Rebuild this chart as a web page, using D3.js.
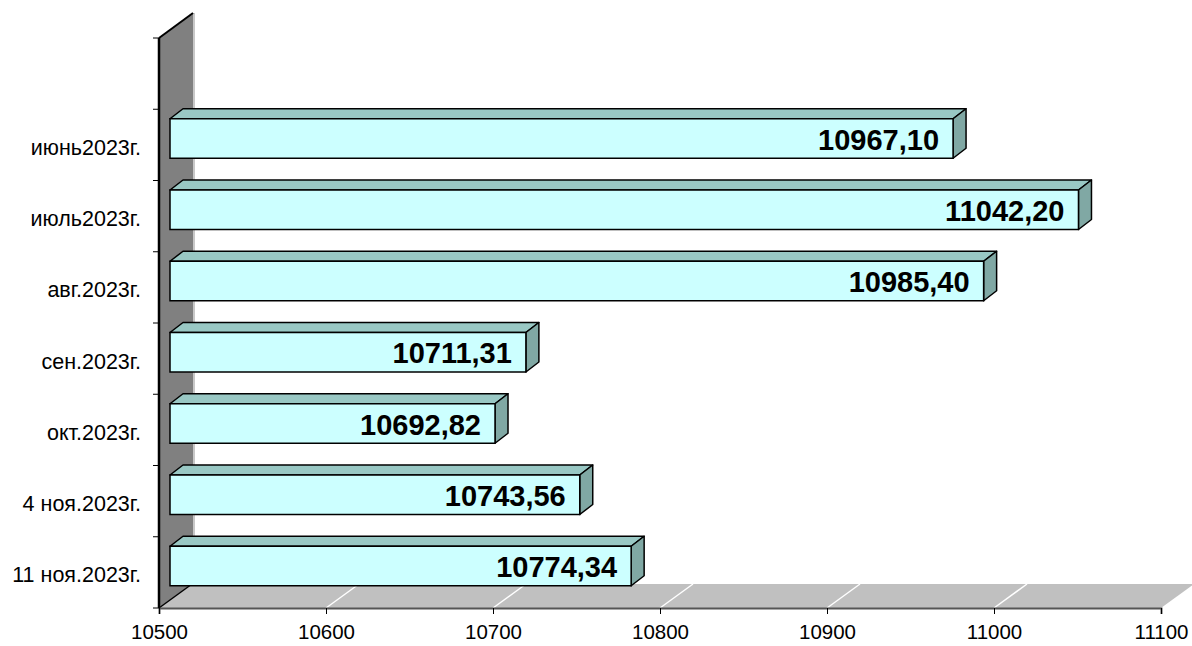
<!DOCTYPE html>
<html>
<head>
<meta charset="utf-8">
<script src="https://cdn.jsdelivr.net/npm/d3@7"></script>
<style>
  html, body { margin: 0; padding: 0; background: #fff; }
  svg { display: block; font-family: "Liberation Sans", Arial, sans-serif; }
</style>
</head>
<body>
<svg id="chart" width="1192" height="646"></svg>
<script>
// data, top to bottom
const categories = ["июнь2023г.", "июль2023г.", "авг.2023г.", "сен.2023г.", "окт.2023г.", "4 ноя.2023г.", "11 ноя.2023г."];
const values = [10967.10, 11042.20, 10985.40, 10711.31, 10692.82, 10743.56, 10774.34];
const xTicks = [10500, 10600, 10700, 10800, 10900, 11000, 11100];

const svg = d3.select("#chart");

const plotLeft = 159, plotRight = 1161, plotTop = 38, plotBottom = 608;
// depth of the floor / wall
const depth = { dx: 33, dy: -24 };
// depth of a single bar
const barDepth = { dx: 13, dy: -10 };

const x = d3.scaleLinear().domain([10500, 11100]).range([plotLeft, plotRight]);
// one empty slot above the first category, as in the original
const y = d3.scaleBand().domain(["", ...categories]).range([plotTop, plotBottom]).padding(0);

const pts = (arr) => arr.map(p => p.join(",")).join(" ");

// wall
svg.append("polygon")
  .attr("points", pts([[plotLeft, plotTop], [plotLeft + depth.dx + 1, plotTop - 25], [plotLeft + depth.dx + 1, plotBottom + depth.dy - 1], [plotLeft, plotBottom]]))
  .attr("fill", "#808080");
svg.append("line")
  .attr("x1", plotLeft + depth.dx + 2).attr("x2", plotLeft + depth.dx + 2)
  .attr("y1", plotTop - 25).attr("y2", plotBottom + depth.dy - 2)
  .attr("stroke", "#c8c8c8").attr("stroke-width", 2);

// floor
svg.append("polygon")
  .attr("points", pts([[plotLeft, plotBottom], [plotRight, plotBottom], [plotRight + depth.dx, plotBottom + depth.dy], [plotLeft + depth.dx, plotBottom + depth.dy]]))
  .attr("fill", "#c0c0c0");

// floor grid lines
svg.append("g").selectAll("line")
  .data(xTicks.slice(1, -1))
  .join("line")
  .attr("x1", d => x(d)).attr("y1", plotBottom)
  .attr("x2", d => x(d) + depth.dx).attr("y2", plotBottom + depth.dy)
  .attr("stroke", "#fff").attr("stroke-width", 1.5);

// wall edges
svg.append("line")
  .attr("x1", plotLeft).attr("y1", plotTop).attr("x2", plotLeft + depth.dx + 1).attr("y2", plotTop - 25)
  .attr("stroke", "#000").attr("stroke-width", 2);
svg.append("line")
  .attr("x1", plotLeft).attr("y1", plotBottom).attr("x2", plotLeft + depth.dx).attr("y2", plotBottom + depth.dy)
  .attr("stroke", "#000").attr("stroke-width", 1.5);

// x axis
const xAxis = svg.append("g")
  .attr("transform", `translate(0,${plotBottom})`)
  .call(d3.axisBottom(x).tickValues(xTicks).tickSize(6).tickPadding(10).tickFormat(d3.format("d")));
xAxis.select(".domain").attr("stroke", "#555").attr("stroke-width", 2);
xAxis.selectAll(".tick line").attr("stroke", "#000");
xAxis.selectAll("text").attr("font-size", 20.5).attr("fill", "#000")
  .attr("font-family", "'Liberation Sans', Arial, sans-serif");

// y axis line + ticks at band boundaries
svg.append("line")
  .attr("x1", plotLeft).attr("x2", plotLeft).attr("y1", plotTop).attr("y2", plotBottom)
  .attr("stroke", "#000").attr("stroke-width", 2.5);
const boundaries = y.domain().map(d => y(d)).concat([plotBottom]);
svg.append("g").selectAll("line")
  .data(boundaries)
  .join("line")
  .attr("x1", plotLeft - 6).attr("x2", plotLeft)
  .attr("y1", d => d).attr("y2", d => d)
  .attr("stroke", "#000").attr("stroke-width", 1);

// category labels
svg.append("g").selectAll("text")
  .data(categories)
  .join("text")
  .attr("x", 141)
  .attr("y", d => y(d) + y.bandwidth() / 2 + 3)
  .attr("text-anchor", "end")
  .attr("dominant-baseline", "central")
  .attr("font-size", 21.5)
  .attr("fill", "#000")
  .text(d => d);

// bars
const barTop = 9.5, barH = 39.5;
const bars = svg.append("g").selectAll("g")
  .data(categories.map((c, i) => ({ c, v: values[i] })))
  .join("g");

bars.each(function (d) {
  const g = d3.select(this);
  const x0 = x(10500) + 11;
  const x1 = x(d.v) + 14;
  const y0 = y(d.c) + barTop;
  const y1 = y0 + barH;
  const bdx = barDepth.dx, bdy = barDepth.dy;
  g.append("polygon")
    .attr("points", pts([[x0, y0], [x0 + bdx, y0 + bdy], [x1 + bdx, y0 + bdy], [x1, y0]]))
    .attr("fill", "#99c8c4").attr("stroke", "#000").attr("stroke-width", 1.5).attr("stroke-linejoin", "round");
  g.append("polygon")
    .attr("points", pts([[x1, y0], [x1 + bdx, y0 + bdy], [x1 + bdx, y1 + bdy], [x1, y1]]))
    .attr("fill", "#80a8a4").attr("stroke", "#000").attr("stroke-width", 1.5).attr("stroke-linejoin", "round");
  g.append("rect")
    .attr("x", x0).attr("y", y0).attr("width", x1 - x0).attr("height", barH)
    .attr("fill", "#ccffff").attr("stroke", "#000").attr("stroke-width", 1.5);
  g.append("text")
    .attr("x", x1 - 14)
    .attr("y", y0 + barH / 2 + 1)
    .attr("text-anchor", "end")
    .attr("dominant-baseline", "central")
    .attr("font-size", 29)
    .attr("font-weight", "bold")
    .attr("fill", "#000")
    .text(d3.format(".2f")(d.v).replace(".", ","));
});
</script>
</body>
</html>
